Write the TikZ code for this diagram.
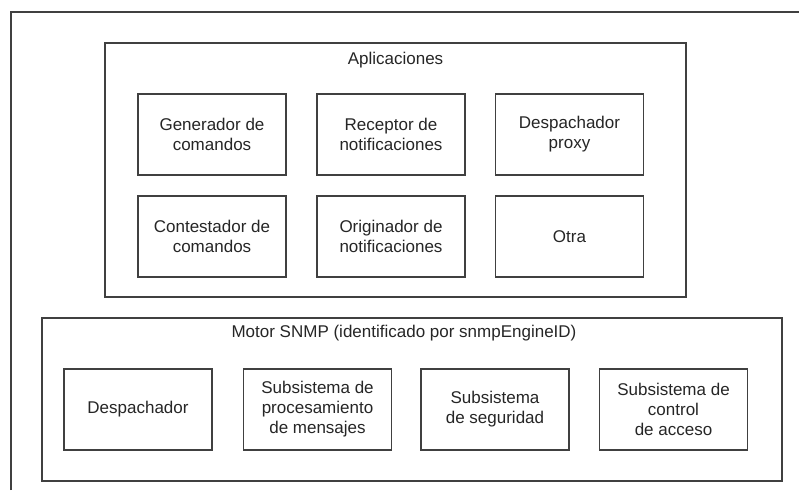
\documentclass[tikz,border=0pt]{standalone}
\usepackage{fontspec}
\setmainfont{Liberation Sans}
\usepackage{tikz}

\tikzset{
  frame/.style={draw=black!75,line width=1.3pt},
  modbox/.style={frame,minimum width=148pt,minimum height=81pt,align=center,
    inner sep=0pt,font=\fontsize{17}{20}\selectfont,text=black!85},
  title/.style={inner sep=0pt,font=\fontsize{17}{20}\selectfont,text=black!85}
}

\begin{document}
\begin{tikzpicture}[x=1pt,y=-1pt]
    \useasboundingbox[fill=white] (0,0) rectangle (799,490);
    % marco exterior
    \draw[frame] (11,490) -- (11,12) -- (799,12);
    % aplicaciones
    \node[frame,minimum width=581pt,minimum height=254pt] (apps) at (395.5,170) {};
    \node[title] (appstitle) at (395.5,60) {Aplicaciones};
    \node[modbox] (gen) at (212,134.5) {Generador de\\comandos};
    \node[modbox] (rec) at (391,134.5) {Receptor de\\notificaciones};
    \node[modbox] (proxy) at (569.5,134.5) {Despachador\\proxy};
    \node[modbox] (cont) at (212,236.5) {Contestador de\\comandos};
    \node[modbox] (orig) at (391,236.5) {Originador de\\notificaciones};
    \node[modbox] (otra) at (569.5,236.5) {Otra};
    % motor SNMP
    \node[frame,minimum width=740pt,minimum height=163pt] (motor) at (412,399.5) {};
    \node[title] (motortitle) at (404,333) {Motor SNMP (identificado por snmpEngineID)};
    \node[modbox] (desp) at (138,409.5) {Despachador};
    \node[modbox] (proc) at (317.5,409.5) {Subsistema de\\procesamiento\\de mensajes};
    \node[modbox] (seg) at (495,409.5) {Subsistema\\de seguridad};
    \node[modbox] (acc) at (673.5,409.5) {Subsistema de\\control\\de acceso};
\end{tikzpicture}
\end{document}
